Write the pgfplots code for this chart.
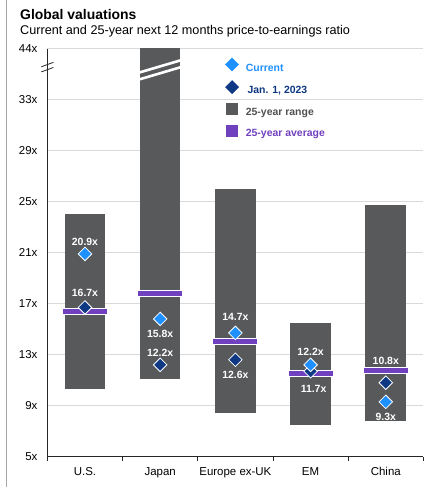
\documentclass[border=0pt]{standalone}
\usepackage{pgfplots}
\pgfplotsset{compat=1.18}
\usepackage{fontspec}
\setmainfont{Liberation Sans}
\definecolor{curblue}{RGB}{30,144,255}
\definecolor{janblue}{RGB}{14,56,132}
\definecolor{rangegray}{RGB}{88,89,91}
\definecolor{avgpurple}{RGB}{112,65,190}
\definecolor{gridgray}{RGB}{217,217,217}
\definecolor{legtext}{RGB}{80,80,80}

\pgfplotstableread{
x y
0 16.4
1 17.8
2 14.0
3 11.5
4 11.75
}\avgs
\pgfplotstableread{
x y
0 20.9
1 15.8
2 14.7
3 12.2
4 9.3
}\current
\pgfplotstableread{
x y
0 16.7
1 12.2
2 12.6
3 11.7
4 10.8
}\jan
\pgfplotstableread{
x y lbl dy dx
0 20.9 20.9x 12 0
0 16.7 16.7x 15 0
1 15.8 15.8x -15 0
1 12.2 12.2x 12 0
2 14.7 14.7x 16 0
2 12.6 12.6x -15 0
3 12.2 12.2x 12.5 0
3 11.7 11.7x -18 3
4 10.8 10.8x 22 0
4 9.3 9.3x -15.5 0
}\labels

\begin{document}
\begin{tikzpicture}[x=1bp,y=1bp]
\path[use as bounding box] (0,0) rectangle (439,500);
\draw[gray!70, line width=0.8bp] (6,13) -- (6,500);
\node[anchor=base west, font=\bfseries\fontsize{14}{16}\selectfont, inner sep=0] at (20,480.7) {Global valuations};
\node[anchor=base west, font=\fontsize{12.7}{14}\selectfont, inner sep=0] at (20,465) {Current and 25-year next 12 months price-to-earnings ratio};
\begin{axis}[
  at={(63,34)}, anchor=south west, scale only axis,
  width=376bp, height=408bp,
  xmin=-0.5, xmax=4.5, ymin=5, ymax=37,
  axis lines=left,
  axis line style={-, draw=black!85, line width=1bp},
  xtick={0,...,4},
  xticklabels={U.S., Japan, Europe ex-UK, EM, China},
  minor xtick={-0.5,0.5,...,4.5},
  ytick={5,9,...,37},
  yticklabels={5x,9x,13x,17x,21x,25x,29x,33x,44x},
  major tick length=0pt, minor tick length=4bp, tick align=outside,
  minor tick style={draw=black!85, line width=0.8bp},
  ymajorgrids, grid style={gridgray, line width=0.6bp},
  tick label style={font=\fontsize{11.5}{13}\selectfont},
  xticklabel style={yshift=-7bp},
  yticklabel style={xshift=-6.5bp},
  clip mode=individual,
  legend style={draw=none, fill=none, inner sep=0pt, outer sep=0pt,
    at={(0.473,0.978)}, anchor=north west, row sep=5.7bp, column sep=5bp,
    font=\bfseries\fontsize{10.5}{12}\selectfont},
  legend cell align=left,
]
% legend
\addlegendimage{legend image code/.code={\filldraw[fill=curblue, draw=curblue] (6bp,-2.8bp) -- (12.6bp,3.8bp) -- (6bp,10.4bp) -- (-0.6bp,3.8bp) -- cycle;}}
\addlegendentry{\textcolor{curblue}{Current}}
\addlegendimage{legend image code/.code={\filldraw[fill=janblue, draw=janblue] (6bp,-2.8bp) -- (12.6bp,3.8bp) -- (6bp,10.4bp) -- (-0.6bp,3.8bp) -- cycle;}}
\addlegendentry{\textcolor{janblue}{\,Jan. 1, 2023}}
\addlegendimage{legend image code/.code={\fill[rangegray] (0.5bp,-1.7bp) rectangle (11.5bp,9.3bp);}}
\addlegendentry{\textcolor{legtext}{25-year range}}
\addlegendimage{legend image code/.code={\fill[avgpurple] (0.5bp,-1.7bp) rectangle (11.5bp,9.3bp);}}
\addlegendentry{\textcolor{avgpurple}{25-year average}}

% ranges
\addplot[forget plot, fill=rangegray, draw=none] coordinates {(-0.27,10.3) (0.27,10.3) (0.27,24.0) (-0.27,24.0)} -- cycle;
\addplot[forget plot, fill=rangegray, draw=none] coordinates {(0.73,11.1) (1.27,11.1) (1.27,40.0) (0.73,40.0)} -- cycle;
\addplot[forget plot, fill=rangegray, draw=none] coordinates {(1.73,8.4) (2.27,8.4) (2.27,26.0) (1.73,26.0)} -- cycle;
\addplot[forget plot, fill=rangegray, draw=none] coordinates {(2.73,7.5) (3.27,7.5) (3.27,15.5) (2.73,15.5)} -- cycle;
\addplot[forget plot, fill=rangegray, draw=none] coordinates {(3.73,7.8) (4.27,7.8) (4.27,24.7) (3.73,24.7)} -- cycle;

% axis break on Japan bar
\draw[white, line width=2.6bp] (axis cs:0.73,35.14) -- (axis cs:1.27,36.08);
\draw[white, line width=2.6bp] (axis cs:0.73,34.60) -- (axis cs:1.27,35.54);

% averages
\addplot[forget plot, only marks, mark=-, mark size=22.8bp, mark options={line width=7.2bp, draw=white}] table[x=x,y=y] {\avgs};
\addplot[forget plot, only marks, mark=-, mark size=22bp, mark options={line width=5.2bp, draw=avgpurple}] table[x=x,y=y] {\avgs};

% diamonds
\addplot[forget plot, only marks, mark=square*, mark size=4.8bp, mark options={rotate=45, fill=janblue, draw=white, line width=0.8bp}] table[x=x,y=y] {\jan};
\addplot[forget plot, only marks, mark=square*, mark size=4.8bp, mark options={rotate=45, fill=curblue, draw=white, line width=0.8bp}] table[x=x,y=y] {\current};

% labels
\addplot[forget plot, only marks, mark=*, mark size=0pt,
  nodes near coords, point meta=explicit symbolic,
  visualization depends on={\thisrow{dy} \as \dy},
  visualization depends on={\thisrow{dx} \as \dx},
  nodes near coords style={anchor=center, inner sep=0pt, text=white,
    font=\bfseries\fontsize{10.5}{12}\selectfont,
    xshift=\dx*1bp, yshift=\dy*1bp}]
  table[x=x, y=y, meta=lbl] {\labels};

% y-axis break marks
\draw[black!85, line width=0.8bp] (axis cs:-0.5,35.75) ++(-6bp,-2.2bp) -- ++(12bp,4.4bp);
\draw[black!85, line width=0.8bp] (axis cs:-0.5,35.35) ++(-6bp,-2.2bp) -- ++(12bp,4.4bp);
\end{axis}
\end{tikzpicture}
\end{document}
